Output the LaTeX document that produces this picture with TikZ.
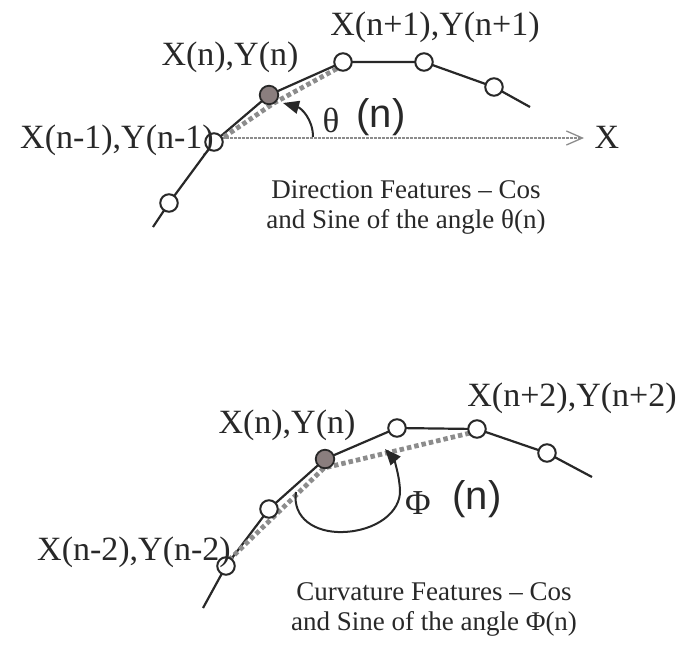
\documentclass[tikz,border=0pt]{standalone}
\usepackage{fontspec}
\setmainfont{Liberation Serif}
\newfontfamily\sansf{Liberation Sans}
\usetikzlibrary{arrows.meta}
\definecolor{inkc}{RGB}{40,40,40}
\definecolor{fillc}{RGB}{138,126,126}
\definecolor{dotc}{RGB}{140,140,140}
\definecolor{axc}{RGB}{140,140,140}
\begin{document}
\begin{tikzpicture}[x=1pt,y=-1pt,
  curve/.style={line width=2.2pt, draw=inkc},
  pt/.style={circle, draw=inkc, line width=2pt, fill=white, minimum size=17.5pt, inner sep=0pt},
  ptf/.style={circle, draw=inkc, line width=1.8pt, fill=fillc, minimum size=18.5pt, inner sep=0pt},
  gdot/.style={line width=4.8pt, draw=dotc, dash pattern=on 4.5pt off 3pt},
  axisline/.style={line width=1.3pt, draw=axc, dash pattern=on 3pt off 1pt},
  anglearc/.style={line width=2pt, draw=inkc, -{Triangle[length=16pt,width=13pt]}},
  lab/.style={font=\fontsize{34}{40}\selectfont, text=inkc, inner sep=0pt},
  greek/.style={font=\fontsize{35}{40}\selectfont, text=inkc, inner sep=0pt},
  sanslab/.style={font=\sansf\fontsize{40}{46}\selectfont, text=inkc, inner sep=0pt},
  caption/.style={font=\fontsize{27}{30}\selectfont, text=inkc, align=center, inner sep=0pt}
]
\useasboundingbox (0,0) rectangle (682,646);

% ---------- top: direction ----------
\coordinate (ts0) at (153,227);
\coordinate (ts1) at (530,107);
\coordinate (tg1) at (224,137);
\coordinate (tg2) at (274,103);
\coordinate (tg3) at (338,68);
\coordinate (xs) at (222,138);
\coordinate (xe) at (584,138);
\coordinate (ta0) at (313,137);
\coordinate (ta1) at (283,103);

\draw[axisline, -{Straight Barb[length=16pt,width=14pt,line width=1.3pt]}] (xs) -- (xe);
\draw[curve] (ts0) -- (169,203) -- (214,142) -- (269,95) -- (343,62) -- (424,62) -- (494,87) -- (ts1);
\draw[gdot] (tg1) -- (tg2) -- (tg3);
\node[pt] (tA) at (169,203) {};
\node[pt] (tB) at (214,142) {};
\node[ptf] (tC) at (269,95) {};
\node[pt] (tD) at (343,62) {};
\node[pt] (tE) at (424,62) {};
\node[pt] (tF) at (494,87) {};
\draw[anglearc] (ta0) .. controls (313,119) and (301,108) .. (ta1);

\node[lab] (tl1) at (435,27) {X(n+1),Y(n+1)};
\node[lab] (tl2) at (230,57) {X(n),Y(n)};
\node[lab] (tl3) at (117,140) {X(n-1),Y(n-1)};
\node[lab] (tX) at (607,137) {X};
\node[greek] (tth) at (331,120) {θ};
\node[sanslab] (tn) at (381,117) {(n)};
\node[caption] (tcap) at (406,207) {Direction Features – Cos\\and Sine of the angle θ(n)};

% ---------- bottom: curvature ----------
\coordinate (bs0) at (203,608);
\coordinate (bs1) at (592,477);
\coordinate (bg1) at (229,560);
\coordinate (bg2) at (324,468);
\coordinate (bg3) at (470,433);
\coordinate (ba0) at (296,492);
\coordinate (ba1) at (385,449);

\draw[curve] (bs0) -- (226,566) -- (269,509) -- (325,459) -- (397,428) -- (477,429) -- (547,453) -- (bs1);
\draw[gdot] (bg1) -- (bg2) -- (bg3);
\node[pt] (bA) at (226,566) {};
\node[pt] (bB) at (269,509) {};
\node[ptf] (bC) at (325,459) {};
\node[pt] (bD) at (397,428) {};
\node[pt] (bE) at (477,429) {};
\node[pt] (bF) at (547,453) {};
\draw[anglearc] (ba0) .. controls (292,518) and (315,533) .. (343,532)
   .. controls (376,531) and (401,512) .. (400,490)
   .. controls (399,472) and (393,458) .. (ba1);

\node[lab] (bl1) at (572,398) {X(n+2),Y(n+2)};
\node[lab] (bl2) at (287,425) {X(n),Y(n)};
\node[lab] (bl3) at (134,552) {X(n-2),Y(n-2)};
\node[greek] (bphi) at (418,503) {Φ};
\node[sanslab] (bn) at (477,499) {(n)};
\node[caption] (bcap) at (434,609) {Curvature Features – Cos\\and Sine of the angle Φ(n)};
\end{tikzpicture}
\end{document}
